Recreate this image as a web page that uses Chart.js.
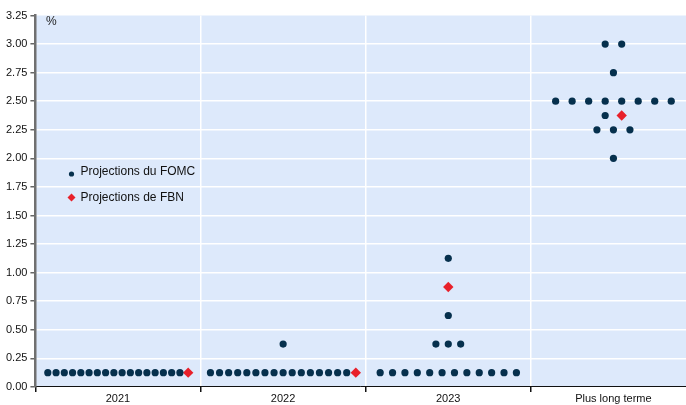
<!DOCTYPE html>
<html>
<head>
<meta charset="utf-8">
<script src="https://cdn.jsdelivr.net/npm/chart.js@4.4.0/dist/chart.umd.min.js"></script>
<style>
  body { margin: 0; background: #fff; }
  #wrap { width: 686px; height: 405px; }
</style>
</head>
<body>
<div id="wrap"><canvas id="chart"></canvas></div>
<script>
var categories = ['2021', '2022', '2023', 'Plus long terme']

// FOMC participants' projections (%), one array per horizon
var fomc2021 = [0.125, 0.125, 0.125, 0.125, 0.125, 0.125, 0.125, 0.125, 0.125,
                0.125, 0.125, 0.125, 0.125, 0.125, 0.125, 0.125, 0.125]
var fomc2022 = [0.125, 0.125, 0.125, 0.125, 0.125, 0.125, 0.125, 0.125,
                0.125, 0.125, 0.125, 0.125, 0.125, 0.125, 0.125, 0.125, 0.375]
var fomc2023 = [0.125, 0.125, 0.125, 0.125, 0.125, 0.125, 0.125, 0.125, 0.125, 0.125, 0.125, 0.125,
                0.375, 0.375, 0.375, 0.625, 1.125]
var fomcLongRun = [2.00, 2.25, 2.25, 2.25, 2.375, 2.50, 2.50, 2.50, 2.50, 2.50, 2.50, 2.50, 2.50,
                   2.75, 3.00, 3.00]
var fomc = [fomc2021, fomc2022, fomc2023, fomcLongRun]

// FBN projections (%)
var fbn = [0.125, 0.125, 0.875, 2.375]

var yTicks = [0, 0.25, 0.5, 0.75, 1, 1.25, 1.5, 1.75, 2, 2.25, 2.5, 2.75, 3, 3.25]

// gap between two dots of a row, in category widths
var spacing = [0.05, 0.055, 0.075, 0.1]

var fomcPoints = []
var fbnPoints = []
categories.forEach(function (c, i) {
  var rows = []
  fomc[i].concat([fbn[i]]).forEach(function (v) {
    if (rows.indexOf(v) < 0) rows.push(v)
  })
  rows.forEach(function (y) {
    var n = fomc[i].filter(function (v) { return v === y }).length
    var red = fbn[i] === y
    var total = n + (red ? 1 : 0)
    var start = i + 0.5 - (total - 1) / 2 * spacing[i]
    for (var k = 0; k < n; k++) fomcPoints.push({ x: start + k * spacing[i], y: y })
    if (red) fbnPoints.push({ x: start + n * spacing[i], y: y })
  })
})

var navy = '#06304d'
var red = '#e8202a'
var FONT = 'Liberation Sans, Arial, sans-serif'

var extras = {
  id: 'extras',
  beforeDraw: function (chart) {
    var a = chart.chartArea, g = chart.ctx
    g.save()
    g.fillStyle = '#dde9fb'
    g.fillRect(a.left, a.top, a.right - a.left, a.bottom - a.top)
    g.restore()
  },
  afterDraw: function (chart) {
    var g = chart.ctx
    g.save()
    g.fillStyle = '#222'
    g.font = '12px ' + FONT
    g.textBaseline = 'middle'
    g.fillText('%', 46, 22)
    // legend
    g.fillStyle = navy
    g.beginPath(); g.arc(71.5, 174, 2.6, 0, Math.PI * 2); g.fill()
    g.fillStyle = red
    g.beginPath()
    g.moveTo(71.5, 193.5); g.lineTo(75.5, 197.5); g.lineTo(71.5, 201.5); g.lineTo(67.5, 197.5)
    g.closePath(); g.fill()
    g.fillStyle = '#111'
    g.font = '12px ' + FONT
    g.fillText('Projections du FOMC', 80.5, 171.5)
    g.fillText('Projections de FBN', 80.5, 197.5)
    g.restore()
  }
}

var ctx = document.getElementById('chart')

var chart = new Chart(ctx, {
  type: 'scatter',
  data: {
    datasets: [{
      label: 'Projections du FOMC',
      data: fomcPoints,
      pointStyle: 'circle',
      pointRadius: 3.6,
      backgroundColor: navy,
      borderColor: navy,
      borderWidth: 0
    }, {
      label: 'Projections de FBN',
      data: fbnPoints,
      pointStyle: 'rectRot',
      pointRadius: 5.2,
      backgroundColor: red,
      borderColor: red,
      borderWidth: 0
    }]
  },
  options: {
    responsive: true,
    maintainAspectRatio: false,
    animation: false,
    layout: { autoPadding: false, padding: { top: 15.5, right: 0, bottom: 0, left: 3 } },
    plugins: { legend: { display: false }, tooltip: { enabled: false } },
    scales: {
      x: {
        type: 'linear',
        min: 0,
        max: 650 / 165,
        afterBuildTicks: function (scale) {
          scale.ticks = [0, 1, 2, 3].map(function (v) { return { value: v } })
        },
        ticks: {
          autoSkip: false,
          maxRotation: 0,
          labelOffset: 82.5,
          padding: 3.5,
          color: '#111',
          font: { family: FONT, size: 11, lineHeight: 0.55 },
          callback: function (v, i) { return categories[i] }
        },
        grid: {
          color: function (c) { return c.tick && c.tick.value === 0 ? 'rgba(0,0,0,0)' : '#ffffff' },
          lineWidth: 1.5,
          tickColor: '#111',
          tickLength: 5
        },
        border: { color: '#111', width: 1 }
      },
      y: {
        min: 0,
        max: 3.25,
        afterBuildTicks: function (scale) {
          scale.ticks = yTicks.map(function (v) { return { value: v } })
        },
        ticks: {
          padding: 3,
          color: '#111',
          font: { family: FONT, size: 11 },
          callback: function (v) { return Number(v).toFixed(2) }
        },
        grid: {
          color: function (c) {
            var v = c.tick && c.tick.value
            return v === 0 || v === 3.25 ? 'rgba(0,0,0,0)' : '#ffffff'
          },
          lineWidth: 1.5,
          tickColor: '#666',
          tickLength: 5
        },
        border: { color: '#707070', width: 2.5 }
      }
    }
  },
  plugins: [extras]
})
</script>
</body>
</html>
